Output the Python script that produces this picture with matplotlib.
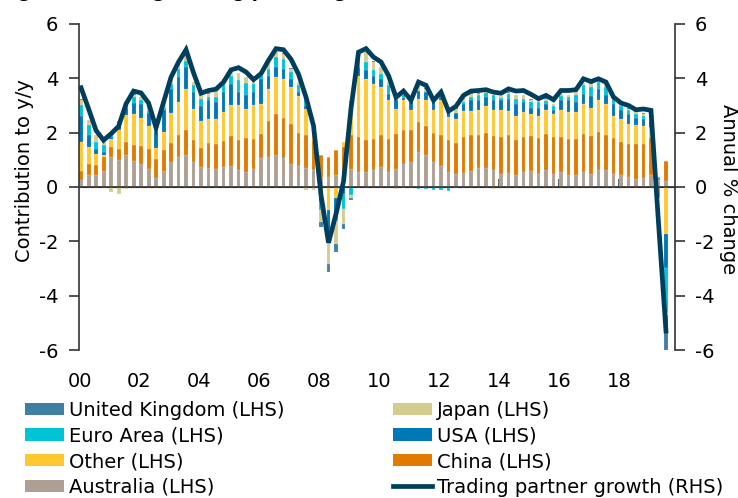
import numpy as np
import pandas as pd
import matplotlib
matplotlib.use("Agg")
import matplotlib.pyplot as plt
from matplotlib.patches import Patch
from matplotlib.lines import Line2D

plt.rcParams['font.family'] = ['DejaVu Sans']
plt.rcParams['axes.unicode_minus'] = False

# ---------------- data (contributions, ppt, quarterly from 2000Q1) ----------------
australia = [0.25, 0.43, 0.43, 0.60, 1.10, 0.98, 1.19, 0.95, 0.86, 0.67,
             0.34, 0.60, 0.92, 1.10, 1.19, 0.92, 0.74, 0.71, 0.65, 0.74,
             0.77, 0.61, 0.55, 0.65, 1.07, 1.10, 1.16, 1.08, 0.86, 0.77,
             0.71, 0.61, 0.37, 0.37, 0.45, 0.50, 0.67, 0.55, 0.55, 0.64,
             0.74, 0.55, 0.67, 0.86, 0.92, 1.29, 1.16, 0.92, 0.76, 0.55,
             0.47, 0.53, 0.58, 0.70, 0.70, 0.61, 0.49, 0.51, 0.43, 0.55,
             0.58, 0.49, 0.64, 0.47, 0.55, 0.43, 0.43, 0.55, 0.49, 0.61,
             0.64, 0.49, 0.43, 0.37, 0.31, 0.34, 0.45, 0.25, 0.23]
china = [0.35, 0.43, 0.37, 0.50, 0.37, 0.43, 0.46, 0.58, 0.64, 0.73,
         0.70, 0.75, 0.70, 0.80, 0.89, 0.80, 0.69, 0.91, 0.94, 0.94,
         1.09, 1.13, 1.26, 1.13, 0.89, 1.31, 1.51, 1.46, 1.47, 1.22,
         1.21, 1.08, 0.79, 0.73, 0.90, 0.97, 1.23, 1.29, 1.19, 1.14,
         1.16, 1.23, 1.29, 1.24, 1.16, 1.10, 1.07, 1.07, 1.14, 1.17,
         1.15, 1.31, 1.32, 1.20, 1.29, 1.25, 1.35, 1.39, 1.31, 1.29,
         1.29, 1.32, 1.32, 1.37, 1.29, 1.35, 1.35, 1.39, 1.37, 1.41,
         1.26, 1.32, 1.22, 1.22, 1.28, 1.23, 1.35, -0.40, 0.73]
other = [1.05, 0.61, 0.42, 0.06, 0.31, 0.67, 1.01, 1.17, 1.05, 0.83,
         0.41, 0.67, 1.10, 1.22, 1.52, 1.16, 0.98, 0.89, 0.92, 1.08,
         1.14, 1.26, 1.07, 1.25, 1.10, 1.19, 1.37, 1.44, 1.35, 1.34,
         0.96, 0.50, -0.20, -0.85, -0.40, 0.18, 1.22, 2.26, 2.24, 2.02,
         1.78, 1.41, 0.92, 1.09, 0.76, 0.86, 0.96, 0.85, 1.29, 0.85,
         0.89, 0.95, 0.89, 0.94, 0.98, 0.98, 0.98, 0.89, 0.86, 0.92,
         0.80, 0.82, 0.88, 0.83, 1.00, 0.98, 0.98, 1.12, 1.06, 1.17,
         1.16, 0.82, 0.86, 0.74, 0.68, 0.66, 0.40, 0.00, -1.73]
usa = [0.95, 0.43, 0.18, 0.12, 0.05, 0.20, 0.25, 0.40, 0.51, 0.49,
       0.57, 0.82, 0.88, 0.92, 0.80, 0.62, 0.56, 0.68, 0.62, 0.73,
       0.80, 0.49, 0.49, 0.46, 0.92, 0.47, 0.37, 0.37, 0.30, 0.16,
       0.10, 0.00, -0.35, -0.75, -0.50, -0.25, 0.05, 0.31, 0.31, 0.27,
       0.30, 0.24, 0.31, 0.10, 0.28, 0.30, 0.30, 0.28, 0.11, 0.25,
       0.21, 0.27, 0.40, 0.35, 0.33, 0.37, 0.37, 0.46, 0.46, 0.36,
       0.25, 0.29, 0.22, 0.17, 0.35, 0.43, 0.36, 0.37, 0.41, 0.43,
       0.31, 0.43, 0.31, 0.37, 0.28, 0.28, 0.20, 0.05, -1.26]
euro_area = [0.40, 0.37, 0.25, 0.25, 0.07, 0.12, 0.19, 0.20, 0.14, 0.08,
             0.12, 0.06, 0.20, 0.31, 0.25, 0.24, 0.28, 0.11, 0.17, 0.31,
             0.30, 0.43, 0.45, 0.31, 0.12, 0.28, 0.37, 0.37, 0.25, 0.25,
             0.21, 0.03, -0.30, -0.30, -0.35, -0.55, -0.30, 0.25, 0.31, 0.24,
             0.19, 0.31, 0.06, 0.08, 0.06, -0.08, -0.08, -0.10, -0.12, -0.15,
             -0.05, 0.07, 0.11, 0.18, 0.16, 0.16, 0.10, 0.16, 0.19, 0.13,
             0.20, 0.20, 0.12, 0.13, 0.14, 0.11, 0.25, 0.31, 0.35, 0.24,
             0.31, 0.19, 0.15, 0.12, 0.15, 0.12, 0.10, 0.07, -1.63]
japan = [0.20, 0.18, 0.25, 0.12, -0.20, -0.25, -0.06, 0.10, 0.10, 0.14,
         0.13, 0.10, 0.12, 0.18, 0.19, 0.12, 0.12, 0.13, 0.23, 0.15,
         0.19, 0.27, 0.22, 0.12, 0.09, 0.21, 0.18, 0.18, 0.12, 0.12,
         -0.10, -0.10, -0.45, -0.95, -0.85, -0.55, -0.12, 0.30, 0.36, 0.29,
         0.24, 0.12, -0.06, -0.04, 0.07, 0.13, 0.13, 0.07, 0.00, 0.00,
         0.16, 0.12, 0.13, 0.06, 0.03, -0.08, 0.04, 0.05, 0.12, 0.12,
         0.09, 0.07, 0.07, 0.07, 0.08, 0.07, 0.12, 0.08, 0.12, 0.06,
         0.12, -0.05, 0.03, 0.06, 0.06, 0.07, 0.05, 0.00, -0.08]
united_kingdom = [0.02, 0.02, 0.02, 0.02, 0.02, 0.02, 0.02, 0.02, 0.02, 0.02,
                  0.02, 0.02, 0.02, 0.02, 0.02, 0.02, 0.02, 0.02, 0.02, 0.02,
                  0.02, 0.02, 0.02, 0.02, 0.02, 0.02, 0.02, 0.02, 0.02, 0.02,
                  0.02, 0.00, -0.17, -0.27, -0.29, -0.20, -0.07, 0.02, 0.02, 0.02,
                  0.02, 0.02, 0.02, 0.02, 0.02, 0.02, 0.02, 0.02, 0.02, 0.02,
                  0.02, 0.02, 0.02, 0.02, 0.02, 0.02, 0.02, 0.02, 0.02, 0.02,
                  0.02, 0.02, 0.02, 0.02, 0.02, 0.02, 0.02, 0.02, 0.02, 0.02,
                  0.02, 0.02, 0.02, 0.02, 0.02, 0.02, 0.02, 0.00, -1.30]
# trading partner growth, annual % change (RHS)
tp_growth = [3.65, 2.88, 2.08, 1.72, 1.96, 2.23, 3.06, 3.53, 3.46, 3.09,
             2.18, 3.12, 4.04, 4.60, 5.05, 4.20, 3.45, 3.55, 3.60, 3.86,
             4.31, 4.39, 4.23, 3.95, 4.17, 4.66, 5.09, 5.05, 4.70, 4.15,
             3.30, 2.25, -0.30, -2.05, -0.99, 0.20, 2.90, 4.96, 5.09, 4.78,
             4.60, 4.10, 3.30, 3.53, 3.19, 3.86, 3.74, 3.19, 3.49, 2.79,
             2.97, 3.37, 3.53, 3.55, 3.58, 3.49, 3.45, 3.61, 3.53, 3.55,
             3.41, 3.25, 3.37, 3.21, 3.55, 3.55, 3.58, 3.98, 3.88, 3.98,
             3.86, 3.31, 3.09, 3.00, 2.84, 2.87, 2.82, -1.30, -5.30]
start_quarter = "2000Q1"
xtick_labels = ["00", "02", "04", "06", "08", "10", "12", "14", "16", "18"]
xtick_years = [2000, 2002, 2004, 2006, 2008, 2010, 2012, 2014, 2016, 2018]
y_ticks = [-6, -4, -2, 0, 2, 4, 6]

series = [
    ("Australia (LHS)", australia, "#ad9f92"),
    ("China (LHS)", china, "#e07b00"),
    ("Other (LHS)", other, "#ffc830"),
    ("USA (LHS)", usa, "#0078b8"),
    ("Euro Area (LHS)", euro_area, "#00c4d6"),
    ("Japan (LHS)", japan, "#d3cd8d"),
    ("United Kingdom (LHS)", united_kingdom, "#3f7fa3"),
]
line_color = "#003e5e"
axis_color = "#333333"
FS = 14

periods = pd.period_range(start_quarter, periods=len(tp_growth), freq="Q")
x = periods.year + (periods.quarter - 1) / 4.0 + 0.05

fig = plt.figure(figsize=(7.38, 4.98), dpi=100)
ax = fig.add_axes([0.107, 0.297, 0.808, 0.655])

pos_base = np.zeros(len(x))
neg_base = np.zeros(len(x))
for name, vals, col in series:
    v = np.asarray(vals, dtype=float)
    pos = np.where(v > 0, v, 0)
    neg = np.where(v < 0, v, 0)
    ax.bar(x, pos, bottom=pos_base, width=0.13, color=col,
           edgecolor=(1, 1, 1, 0.35), linewidth=0.3)
    ax.bar(x, neg, bottom=neg_base, width=0.13, color=col,
           edgecolor=(1, 1, 1, 0.35), linewidth=0.3)
    pos_base += pos
    neg_base += neg

ax.set_ylim(-6, 6)
ax.set_xlim(1999.98, 2019.86)
ax.set_yticks(y_ticks)
ax.set_yticklabels([str(t) for t in y_ticks])
ax.axhline(0, color=axis_color, lw=1.2, zorder=3)

for s in ["top", "bottom", "right"]:
    ax.spines[s].set_visible(False)
ax.spines["left"].set_color(axis_color)
ax.spines["left"].set_linewidth(1.2)
ax.tick_params(axis="y", direction="out", length=7, width=1.2, color=axis_color,
               labelsize=FS, pad=8)
ax.set_xticks(xtick_years)
ax.set_xticklabels(xtick_labels)
ax.tick_params(axis="x", length=0, labelsize=FS, pad=16)
ax.set_ylabel("Contribution to y/y", fontsize=FS, va="center", ha="center")
ax.yaxis.set_label_coords(-0.091, 0.55)

# tick marks on the zero line
sec = ax.secondary_xaxis(0.5)
sec.set_xticks(xtick_years)
sec.set_xticklabels([])
sec.spines["bottom"].set_visible(False)
sec.tick_params(axis="x", direction="out", length=6, width=1.2, color=axis_color)

ax2 = ax.twinx()
ax2.plot(x, tp_growth, color=line_color, lw=3.4, solid_joinstyle="miter", zorder=5)
ax2.set_ylim(-6, 6)
ax2.set_yticks(y_ticks)
ax2.set_yticklabels([str(t) for t in y_ticks])
for s in ["top", "bottom", "left"]:
    ax2.spines[s].set_visible(False)
ax2.spines["right"].set_color(axis_color)
ax2.spines["right"].set_linewidth(1.2)
ax2.tick_params(axis="y", direction="out", length=7, width=1.2, color=axis_color,
                labelsize=FS, pad=7)
ax2.set_ylabel("Annual % change", fontsize=FS, rotation=-90, va="center", ha="center")
ax2.yaxis.set_label_coords(1.089, 0.495)

fig.text(0.0, 1.006, "Figure 2: Strong trading partner growth", fontsize=13,
         fontweight="bold", va="baseline", ha="left")

cols = {n: c for n, _, c in series}
order = ["United Kingdom (LHS)", "Euro Area (LHS)", "Other (LHS)", "Australia (LHS)",
         "Japan (LHS)", "USA (LHS)", "China (LHS)"]
handles = [Patch(facecolor=cols[n], edgecolor="none") for n in order]
labels = list(order)
handles.append(Line2D([], [], color=line_color, lw=3.4))
labels.append("Trading partner growth (RHS)")
fig.legend(handles, labels, ncol=2, loc="upper left", bbox_to_anchor=(0.034, 0.195),
           frameon=False, fontsize=FS, handlelength=2.0, handleheight=0.6,
           handletextpad=0.25, labelspacing=0.34, columnspacing=5.6, borderpad=0,
           borderaxespad=0)

fig.savefig("out.png", dpi=100)
